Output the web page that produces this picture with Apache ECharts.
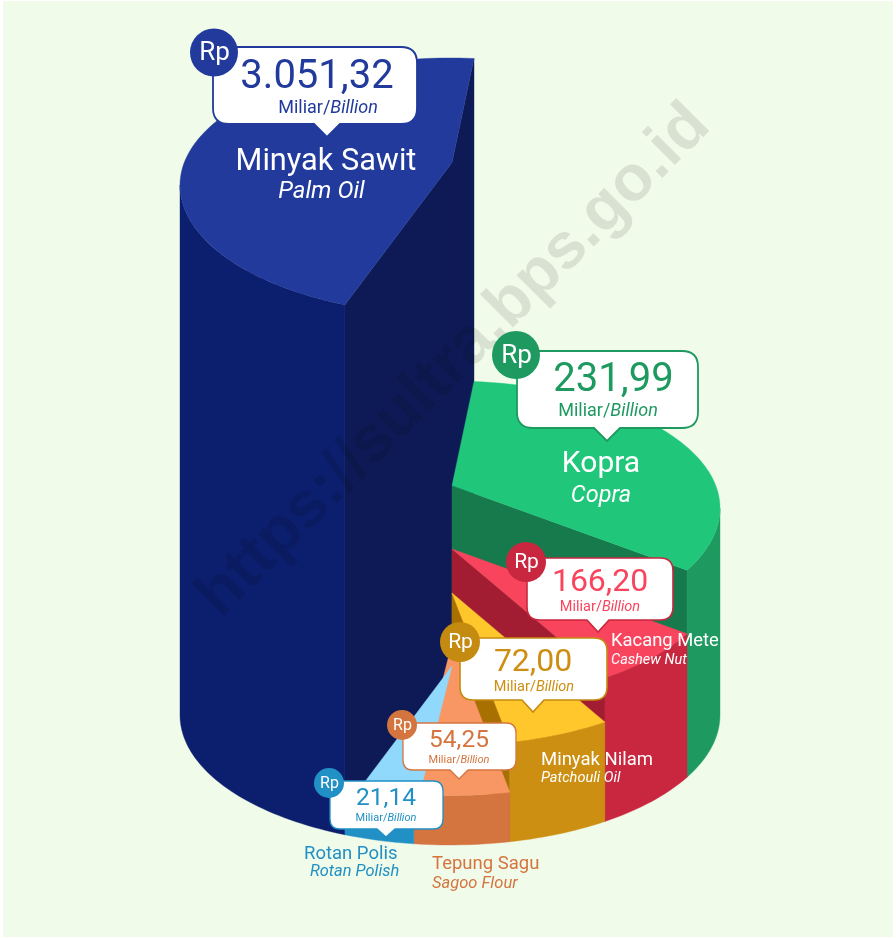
<!DOCTYPE html>
<html><head><meta charset="utf-8">
<style>html,body{margin:0;padding:0;background:#fff}#c{width:896px;height:938px}</style>
<script src="https://cdn.jsdelivr.net/npm/echarts@6/dist/echarts.min.js"></script>
</head><body><div id="c"></div>
<script>
// ---- data ----
const categories = ['Minyak Sawit','Kopra','Kacang Mete','Minyak Nilam','Tepung Sagu','Rotan Polis'];
const categoriesEn = ['Palm Oil','Copra','Cashew Nut','Patchouli Oil','Sagoo Flour','Rotan Polish'];
const valueLabels = ['3.051,32','231,99','166,20','72,00','54,25','21,14'];
const sliceStartDeg = [112.9,-84.9,28.6,55,77.2,97.7];
const sliceEndDeg = [275.1,28.6,55,77.2,97.7,112.9];
const sliceHeights = [530,207,143.5,99.5,49.5,26.5];
const unitRoman = 'Miliar/';
const unitItalic = 'Billion';
const currency = 'Rp';
const watermark = 'https://sultra.bps.go.id';

// ---- styling ----
const topColors = ['#213a9c','#20c77b','#f9445e','#ffc72c','#f89763','#90d9fd'];
const outerColors = ['#0c1f6e','#1e9a60','#c8273f','#cc8f12','#d47540','#2190c4'];
const cutColors = ['#0e1a55','#177a4d','#a21d32','#a87000',null,null];
const accentColors = ['#213a9c','#1e9a60','#c8273f','#c58a10','#d47540','#2190c4'];
const valueColors = ['#213a9c','#1e9a60','#f9445e','#cc8f12','#d47540','#2190c4'];
const RX=270, RY=130, RY_BACK=127, APX=2, APY=22.5;
const font='Roboto';
// callout layout: box, pointer centre, badge, font sizes, name position
const callouts = [
 {x:213,y:47,w:204,h:77,r:16,tip:327,tw:13,th:13,bx:214,by:52.5,br:24,rp:26,vs:40,vx:317,vy:78,us:18,ux:328,uy:108,
  name:[326,162.5,30.7,'center','#fff'],en:[321.5,192,24,'center','#fff'],lw:1.8},
 {x:517,y:351,w:181,h:77,r:16,tip:607,tw:13,th:13,bx:516,by:355,br:24,rp:26,vs:40,vx:613.5,vy:381,us:18,ux:608,uy:411,
  name:[601,464.5,30,'center','#fff'],en:[601,496,23.5,'center','#fff'],lw:1.8},
 {x:527,y:558,w:146,h:62,r:13,tip:598,tw:11,th:12,bx:526,by:562,br:20,rp:21,vs:32,vx:600,vy:582.5,us:14.5,ux:600,uy:607,
  name:[611,641,18.4,'left','#fff'],en:[611,660,14.5,'left','#fff'],lw:1.6},
 {x:460,y:638,w:147,h:62,r:13,tip:533,tw:11,th:12,bx:460,by:642,br:20,rp:21,vs:32,vx:533,vy:662.5,us:14.5,ux:534,uy:687,
  name:[541,760,18.5,'left','#fff'],en:[541,778,14.6,'left','#fff'],lw:1.6},
 {x:403,y:723,w:113,h:47,r:10,tip:459,tw:9,th:9,bx:402,by:725,br:15,rp:16,vs:24.5,vx:459,vy:741,us:11,ux:459,uy:760,
  name:[432,864,18.5,'left','#d47540'],en:[432,884,16.5,'left','#d47540'],lw:1.3},
 {x:330,y:781,w:113,h:48,r:10,tip:386,tw:9,th:8,bx:329,by:783,br:15,rp:16,vs:24.5,vx:386,vy:799,us:11,ux:386,uy:818,
  name:[304,854,18.5,'left','#2190c4'],en:[310,872,16.4,'left','#2190c4'],lw:1.3}
];
const rad=d=>d*Math.PI/180;
const rim=(deg,h)=>{const s=Math.sin(rad(deg));return [RX*Math.cos(rad(deg)),h-(s<0?RY_BACK:RY)*s];};
function arc(a,b,h){const n=Math.max(2,Math.ceil(Math.abs(b-a)/1.5));const p=[];for(let i=0;i<=n;i++)p.push(rim(a+(b-a)*i/n,h));return p;}

function renderSlice(params,api){
  const i=params.dataIndex, a=api.value(0), b=api.value(1), h=api.value(2);
  const C=p=>api.coord(p);
  const poly=(pts,fill)=>({type:'polygon',shape:{points:pts.map(C)},style:{fill:fill,stroke:fill,lineWidth:0.4},silent:true});
  const apexTop=[APX,h+APY], apexBase=[APX,APY];
  const kids=[];
  // cut faces: the large slice shows both radial edges, the others their front edge
  if(i===0) kids.push(poly([apexTop,rim(a,h),rim(a,0),apexBase],cutColors[i]));
  if(cutColors[i]) kids.push(poly([apexTop,rim(b,h),rim(b,0),apexBase],cutColors[i]));
  // outer wall: front half only
  const wa=Math.max(a,0), wb=Math.min(b,180);
  if(wb>wa) kids.push(poly(arc(wa,wb,h).concat(arc(wb,wa,0)),outerColors[i]));
  // top face
  kids.push(poly([apexTop].concat(arc(a,b,h)),topColors[i]));
  return {type:'group',children:kids};
}

function calloutPath(c){
  const {x,y,w,h,r,tip,tw,th}=c, R=x+w, B=y+h;
  return `M${x+r} ${y}L${R-r} ${y}Q${R} ${y} ${R} ${y+r}L${R} ${B-r}Q${R} ${B} ${R-r} ${B}`+
    `L${tip+tw} ${B}L${tip} ${B+th}L${tip-tw} ${B}L${x+r} ${B}Q${x} ${B} ${x} ${B-r}L${x} ${y+r}Q${x} ${y} ${x+r} ${y}Z`;
}
function txt(t,x,y,size,color,align,italic){
  return {type:'text',x:x,y:y,style:{text:t,fontFamily:font,fontSize:size,fill:color,align:align||'center',verticalAlign:'middle',fontStyle:italic?'italic':'normal'},silent:true};
}
function renderCallout(params){
  const i=params.dataIndex,c=callouts[i],col=accentColors[i];
  return {type:'group',children:[
    {type:'path',shape:{pathData:calloutPath(c)},style:{fill:'#fff',stroke:col,lineWidth:c.lw},silent:true},
    {type:'circle',shape:{cx:c.bx,cy:c.by,r:c.br},style:{fill:col},silent:true},
    txt(currency,c.bx+0.5,c.by+1,c.rp,'#fff'),
    txt(valueLabels[i],c.vx,c.vy,c.vs,valueColors[i]),
    {type:'text',x:c.ux,y:c.uy,style:{
      text:'{a|'+unitRoman+'}{b|'+unitItalic+'}',align:'center',verticalAlign:'middle',
      rich:{a:{fontFamily:font,fontSize:c.us,fill:valueColors[i]},b:{fontFamily:font,fontSize:c.us,fontStyle:'italic',fill:valueColors[i]}}
    },silent:true},
    txt(categories[i],c.name[0],c.name[1],c.name[2],c.name[4],c.name[3]),
    txt(categoriesEn[i],c.en[0],c.en[1],c.en[2],c.en[4],c.en[3],true)
  ]};
}

const chart=echarts.init(document.getElementById('c'),null,{renderer:'canvas',width:896,height:938});
const sliceData=categories.map((n,i)=>({name:n,value:[sliceStartDeg[i],sliceEndDeg[i],sliceHeights[i]]}));
chart.setOption({
  animation:false,
  backgroundColor:'#fff',
  grid:{left:180,top:55,width:540,height:790},
  xAxis:{type:'value',min:-270,max:270,show:false},
  yAxis:{type:'value',min:-130,max:660,show:false},
  tooltip:{show:false},
  graphic:[
    {type:'rect',z:-10,shape:{x:3,y:1,width:890,height:936},style:{fill:'#f1fbea'},silent:true},
    {type:'text',z:50,x:454,y:361,rotation:Math.PI/4,style:{text:watermark,fontFamily:'Liberation Sans',fontWeight:'bold',fontSize:64.5,fill:'rgba(0,0,0,0.1)',align:'center',verticalAlign:'middle'},silent:true}
  ],
  series:[
    {type:'custom',coordinateSystem:'cartesian2d',clip:false,z:2,encode:{x:0,y:2},renderItem:renderSlice,data:sliceData},
    {type:'custom',coordinateSystem:'none',z:60,renderItem:renderCallout,data:categories.map(n=>({name:n,value:[0]}))}
  ]
});
</script></body></html>
